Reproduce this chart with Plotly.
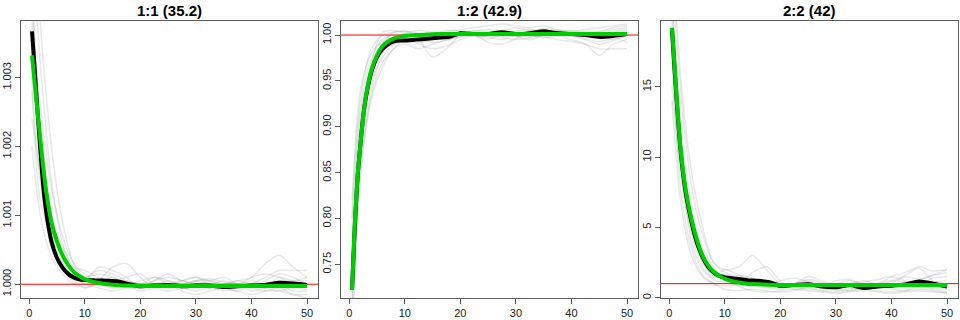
import plotly.graph_objects as go

# ---------------- data ----------------
titles = ["1:1 (35.2)", "1:2 (42.9)", "2:2 (42)"]

x_fit = [0.5, 1, 1.5, 2, 2.5, 3, 4, 5, 6, 7, 8, 9, 10, 12, 14, 16, 18, 20,
         22.5, 25, 27.5, 30, 32.5, 35, 37.5, 40, 42.5, 45, 47.5, 50]
x_rep = [0.5, 2, 4, 6, 8, 10, 12.5, 15, 17.5, 20, 22.5, 25, 27.5, 30, 32.5,
         35, 37.5, 40, 42.5, 45, 47.5, 50]

# panel 1 : 1:1
mean_11 = [1.00367, 1.0031, 1.0025, 1.00195, 1.00145, 1.00108, 1.00062, 1.00038,
           1.00024, 1.00015, 1.00010, 1.00007, 1.00006, 1.000055, 1.00005,
           1.00004, 1.00000, 0.99997, 0.99998, 0.99999, 0.99997, 0.99998,
           0.99998, 0.99996, 0.99997, 0.99998, 0.99999, 1.00002, 1.00001, 0.99999]
fit_11 = [1.00332, 1.0029, 1.0025, 1.0021, 1.00172, 1.00138, 1.0009, 1.00062,
          1.00042, 1.00028, 1.00018, 1.00012, 1.000075, 1.000025, 1.0, 0.999985,
          0.99998, 0.999975, 0.999975, 0.999975, 0.999975, 0.999975, 0.999975,
          0.999975, 0.999975, 0.999975, 0.999975, 0.999975, 0.999975, 0.999975]
reps_11 = [
    [1.0050, 1.0032, 1.0015, 1.0006, 1.0002, 1.0001, 1.0002, 1.00015, 1.00005, 1.0, 1.00005, 1.0001, 1.00005, 1.0, 0.99995, 1.0, 1.00005, 1.0001, 1.0003, 1.00042, 1.00025, 1.0001],
    [1.0045, 1.0020, 1.0008, 1.0003, 1.0001, 1.00005, 1.00025, 1.0002, 1.0001, 0.99995, 1.00005, 1.00015, 1.00005, 1.0001, 1.0, 0.99995, 0.9999, 1.0, 1.0001, 1.0002, 1.0002, 1.0002],
    [1.0028, 1.0015, 1.0006, 1.0002, 1.00005, 0.99995, 1.00005, 1.00025, 1.0003, 1.0001, 0.99995, 1.0, 1.00005, 1.0, 1.00005, 1.0, 1.00005, 1.0, 0.99995, 1.0001, 1.00005, 1.0001],
    [1.0038, 1.0026, 1.0014, 1.0007, 1.0003, 1.00015, 1.00005, 1.0, 1.00005, 1.0, 1.0001, 1.0, 0.99995, 1.00005, 1.00005, 0.99995, 1.0, 0.9999, 0.99995, 1.0, 0.9999, 0.9999],
    [1.0020, 1.0010, 1.0004, 1.00015, 1.0, 0.99995, 1.0, 1.0001, 1.0, 0.9999, 0.99995, 1.0, 0.9999, 0.99985, 0.9999, 0.99995, 0.9999, 0.99985, 0.9999, 0.9999, 0.99985, 0.99985],
    [1.0060, 1.0038, 1.0020, 1.0009, 1.0003, 1.0001, 1.00015, 1.0001, 1.0, 1.00005, 1.0001, 1.00005, 1.0, 1.00005, 1.0, 1.00005, 1.0, 1.00005, 1.0, 1.00005, 1.00005, 1.00005],
    [1.0030, 1.0012, 1.0007, 1.0005, 1.00015, 1.0, 1.00005, 1.0, 0.99995, 0.99995, 1.0, 0.99995, 0.99995, 0.9999, 0.99995, 0.9999, 0.99995, 1.0, 0.99995, 0.9999, 0.99995, 0.99992],
    [1.0024, 1.0016, 1.0009, 1.00055, 1.00025, 1.0002, 1.0001, 1.00005, 1.0001, 1.00015, 1.0, 0.99995, 1.00005, 1.0001, 1.00005, 1.0001, 1.0, 0.99995, 1.00005, 1.00015, 1.0001, 1.0],
    [1.0042, 1.0023, 1.0010, 1.00035, 1.0001, 1.0, 0.99995, 0.9999, 0.99995, 1.0, 0.99995, 0.9999, 0.99995, 1.0, 0.99995, 1.0, 1.0, 0.99995, 0.9999, 0.99995, 0.99985, 0.9998],
    [1.0035, 1.0019, 1.0010, 1.00045, 1.0002, 1.00005, 1.0, 1.00005, 1.0, 0.99995, 1.0, 1.00005, 1.0, 1.00005, 1.00008, 1.00003, 1.0, 1.0001, 1.00015, 1.0001, 1.0, 1.0],
]

# panel 2 : 1:2
mean_12 = [0.722, 0.79, 0.845, 0.88, 0.91, 0.932, 0.96, 0.976, 0.985, 0.99,
           0.993, 0.994, 0.994, 0.995, 0.996, 0.997, 0.998, 1.002, 1.001, 1.001,
           1.003, 1.001, 1.002, 1.004, 1.002, 1.001, 1.000, 0.998, 0.999, 1.001]
fit_12 = [0.722, 0.794, 0.846, 0.88, 0.91, 0.933, 0.962, 0.978, 0.988, 0.993,
          0.996, 0.998, 0.999, 1.000, 1.0005, 1.001, 1.001, 1.001, 1.001, 1.001,
          1.001, 1.001, 1.001, 1.001, 1.001, 1.001, 1.001, 1.001, 1.001, 1.001]
reps_12 = [
    [0.70, 0.90, 0.97, 1.003, 1.005, 1.002, 0.995, 0.976, 0.985, 1.000, 1.003, 0.998, 0.995, 1.000, 1.002, 1.005, 1.000, 0.995, 0.990, 0.978, 0.990, 0.995],
    [0.82, 0.93, 0.985, 1.000, 1.003, 1.004, 1.000, 0.998, 1.003, 1.006, 1.008, 1.010, 1.012, 1.010, 1.008, 1.010, 1.006, 1.004, 1.006, 1.008, 1.010, 1.012],
    [0.68, 0.85, 0.93, 0.965, 0.985, 0.99, 0.985, 0.99, 0.995, 0.998, 1.000, 0.992, 0.990, 0.996, 1.000, 0.998, 0.995, 0.993, 0.990, 0.985, 0.985, 0.985],
    [0.74, 0.91, 0.965, 0.985, 0.99, 0.995, 0.998, 1.000, 1.005, 1.004, 1.000, 1.002, 1.005, 1.008, 1.005, 1.002, 1.004, 1.005, 1.003, 1.000, 1.004, 1.006],
    [0.79, 0.92, 0.975, 0.995, 1.000, 0.998, 0.990, 0.985, 0.988, 0.995, 1.000, 1.003, 1.000, 0.998, 0.995, 1.000, 1.003, 1.000, 0.996, 0.993, 0.996, 0.998],
    [0.72, 0.86, 0.94, 0.98, 0.995, 1.002, 1.005, 1.003, 1.000, 1.002, 1.005, 1.003, 1.000, 1.004, 1.006, 1.003, 1.000, 1.002, 1.000, 0.998, 1.002, 1.004],
    [0.76, 0.89, 0.95, 0.975, 0.99, 0.993, 0.996, 0.992, 0.994, 1.000, 0.998, 0.996, 1.000, 1.003, 1.000, 0.997, 0.999, 1.001, 1.003, 1.001, 0.998, 0.992],
    [0.71, 0.88, 0.955, 0.99, 1.003, 1.004, 1.002, 1.000, 0.998, 1.001, 1.004, 1.006, 1.004, 1.002, 1.004, 1.007, 1.005, 1.002, 1.000, 1.003, 1.006, 1.008],
    [0.66, 0.84, 0.935, 0.97, 0.985, 0.996, 1.000, 0.997, 0.995, 0.998, 1.002, 1.000, 0.997, 0.995, 0.997, 1.000, 1.002, 0.999, 0.995, 0.990, 0.994, 1.000],
    [0.80, 0.94, 0.98, 0.993, 0.997, 0.995, 0.992, 0.995, 1.000, 1.003, 1.001, 0.999, 1.002, 1.000, 0.998, 1.001, 1.004, 1.003, 1.001, 1.004, 1.008, 1.010],
]

# panel 3 : 2:2
mean_22 = [19.0, 16.0, 13.1, 10.6, 8.8, 7.4, 5.4, 3.9, 2.9, 2.2, 1.8, 1.55,
           1.45, 1.35, 1.25, 1.2, 1.1, 0.85, 0.9, 0.95, 0.8, 0.75, 0.9, 0.7,
           0.8, 0.85, 0.95, 1.15, 1.0, 0.8]
fit_22 = [19.2, 16.3, 13.3, 10.8, 9.0, 7.6, 5.6, 4.1, 3.0, 2.3, 1.85, 1.55,
          1.35, 1.12, 1.0, 0.95, 0.92, 0.9, 0.9, 0.9, 0.9, 0.9, 0.9, 0.9, 0.9,
          0.9, 0.9, 0.9, 0.9, 0.9]
reps_22 = [
    [24, 15, 8, 4.5, 2.5, 2.0, 2.2, 3.0, 2.0, 1.0, 0.9, 1.2, 1.0, 0.8, 1.0, 1.2, 1.0, 1.5, 1.8, 2.2, 1.9, 2.0],
    [22, 12, 5.5, 2.5, 1.5, 2.0, 1.6, 1.2, 1.0, 0.7, 1.0, 1.5, 1.2, 0.9, 0.7, 0.6, 0.8, 1.2, 1.5, 1.3, 1.6, 1.8],
    [14, 7, 3, 1.5, 1.0, 0.8, 1.0, 1.8, 2.2, 1.2, 0.6, 0.8, 0.9, 0.6, 0.5, 0.7, 0.9, 0.6, 0.5, 0.8, 0.6, 0.4],
    [20, 11, 5, 2.8, 2.0, 1.5, 1.2, 1.0, 0.8, 0.6, 0.9, 1.0, 0.8, 1.2, 1.3, 0.9, 0.7, 1.0, 1.6, 2.1, 1.2, 1.0],
    [17, 8, 3.5, 1.6, 1.0, 0.6, 0.5, 0.6, 0.5, 0.4, 0.5, 0.7, 0.5, 0.4, 0.5, 0.6, 0.5, 0.4, 0.5, 0.6, 0.5, 0.3],
    [26, 16, 9, 5, 2.5, 1.8, 1.5, 1.3, 1.0, 0.8, 0.9, 1.1, 0.9, 1.0, 1.2, 1.0, 0.9, 0.8, 0.9, 1.0, 1.1, 1.2],
    [18, 10, 4, 2.0, 1.4, 1.7, 1.3, 0.9, 0.7, 0.8, 1.0, 1.3, 1.1, 0.8, 0.9, 1.1, 1.3, 1.5, 1.2, 0.9, 1.4, 1.5],
    [21, 13, 6.5, 3.5, 2.2, 1.2, 0.9, 1.0, 1.2, 1.0, 0.8, 0.6, 0.5, 0.7, 0.9, 0.8, 0.7, 0.9, 1.0, 1.3, 1.6, 2.0],
    [15, 9, 4.5, 2.2, 1.3, 1.1, 1.6, 1.4, 1.0, 1.2, 1.4, 1.1, 0.7, 0.5, 0.6, 0.8, 1.0, 1.2, 1.1, 0.8, 0.7, 0.6],
    [19, 10.5, 5, 2.6, 1.6, 1.3, 0.8, 0.5, 0.4, 0.5, 0.6, 0.5, 0.4, 0.3, 0.4, 0.5, 0.4, 0.3, 0.4, 0.5, 0.4, 0.35],
]

ref_level = 1.0

y_ticks = [[1.000, 1.001, 1.002, 1.003],
           [0.75, 0.80, 0.85, 0.90, 0.95, 1.00],
           [0, 5, 10, 15]]
y_fmt = [".3f", ".2f", "d"]
y_ranges = [[0.9998, 1.00382], [0.7133, 1.0153], [-0.02, 19.68]]
x_ticks = [0, 10, 20, 30, 40, 50]

panels = [(mean_11, fit_11, reps_11), (mean_12, fit_12, reps_12),
          (mean_22, fit_22, reps_22)]

# ---------------- layout ----------------
W, H = 960, 320
boxes_px = [(21, 318), (341, 638), (661, 958)]
top_px, bot_px = 21, 298

fig = go.Figure()
font_family = "Liberation Sans, Arial, Helvetica, sans-serif"

for i, (mean, fit, reps) in enumerate(panels):
    n = i + 1
    xa = "x" if n == 1 else f"x{n}"
    ya = "y" if n == 1 else f"y{n}"
    for r in reps:
        fig.add_trace(go.Scatter(x=x_rep, y=r, mode="lines", xaxis=xa, yaxis=ya,
                                 line=dict(color="rgba(150,150,150,0.22)", width=1.5,
                                           shape="spline", smoothing=0.8),
                                 showlegend=False, hoverinfo="skip"))
    fig.add_trace(go.Scatter(x=[-5, 60], y=[ref_level, ref_level], mode="lines",
                             xaxis=xa, yaxis=ya,
                             line=dict(color="#ff0000", width=1),
                             showlegend=False, hoverinfo="skip"))
    fig.add_trace(go.Scatter(x=x_fit, y=mean, mode="lines", xaxis=xa, yaxis=ya,
                             line=dict(color="black", width=4, shape="spline",
                                       smoothing=0.6),
                             showlegend=False))
    fig.add_trace(go.Scatter(x=x_fit, y=fit, mode="lines", xaxis=xa, yaxis=ya,
                             line=dict(color="#00cd00", width=4, shape="spline",
                                       smoothing=0.6),
                             showlegend=False))

    x0, x1 = boxes_px[i]
    axis_common = dict(showline=True, mirror=True, linecolor="#5a5a5a", linewidth=1,
                       showgrid=False, zeroline=False, ticks="outside", ticklen=5,
                       tickcolor="#5a5a5a", tickwidth=1,
                       tickfont=dict(family=font_family, size=11, color="#222"))
    fig.update_layout(**{
        ("xaxis" if n == 1 else f"xaxis{n}"): dict(
            domain=[x0 / W, x1 / W], anchor=ya, range=[-1.48, 51.98],
            tickvals=x_ticks, **axis_common),
        ("yaxis" if n == 1 else f"yaxis{n}"): dict(
            domain=[1 - bot_px / H, 1 - top_px / H], anchor=xa,
            range=y_ranges[i], tickvals=y_ticks[i], tickformat=y_fmt[i],
            tickangle=-90, **axis_common),
    })
    fig.add_annotation(text=f"<b>{titles[i]}</b>", x=(x0 + x1) / 2 / W, y=1 - 10 / H,
                       xref="paper", yref="paper", showarrow=False,
                       xanchor="center", yanchor="middle",
                       font=dict(family=font_family, size=15, color="black"))

fig.update_layout(width=W, height=H, margin=dict(l=0, r=0, t=0, b=0),
                  paper_bgcolor="white", plot_bgcolor="white", showlegend=False)

fig.write_html("out.html")
